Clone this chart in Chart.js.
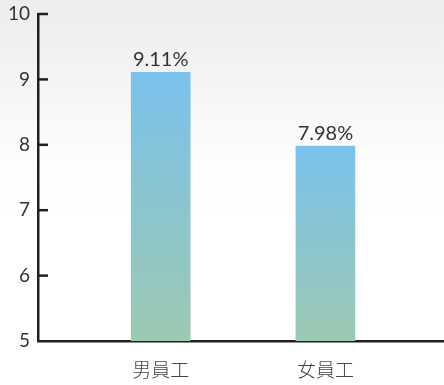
<!DOCTYPE html>
<html>
<head>
<meta charset="utf-8">
<script src="https://cdn.jsdelivr.net/npm/chart.js@4"></script>
<style>
  html, body { margin: 0; padding: 0; }
  body {
    width: 444px; height: 385px;
    background: linear-gradient(to bottom, #ededed 0%, #f4f4f4 20%, #fdfdfd 42%, #ffffff 55%);
  }
  #wrap { position: relative; width: 444px; height: 385px; }
</style>
</head>
<body>
<div id="wrap"><canvas id="chart"></canvas></div>
<script>
const categories = ['男員工', '女員工'];
const rates = [9.11, 7.98];
const yTicks = [5, 6, 7, 8, 9, 10];

const numFont = "Lato, 'Noto Sans', sans-serif";
const cjkFont = "'Noto Sans CJK TC', 'Noto Sans', sans-serif";

function barGradient(ctx) {
  const chart = ctx.chart;
  if (!chart.chartArea || ctx.dataIndex === undefined) return '#7cc2ea';
  const y = chart.scales.y;
  const top = y.getPixelForValue(rates[ctx.dataIndex]);
  const bottom = y.getPixelForValue(y.min);
  const g = chart.ctx.createLinearGradient(0, top, 0, bottom);
  g.addColorStop(0, '#7ac2ec');
  g.addColorStop(1, '#9cc9b1');
  return g;
}

// short tick marks pointing into the plot
const innerTicks = {
  id: 'innerTicks',
  afterDraw(chart) {
    const c = chart.ctx, y = chart.scales.y;
    c.save();
    c.strokeStyle = '#231f20';
    c.lineWidth = 2.5;
    yTicks.slice(1).forEach(v => {
      const py = y.getPixelForValue(v);
      c.beginPath();
      c.moveTo(chart.chartArea.left, py);
      c.lineTo(chart.chartArea.left + 10, py);
      c.stroke();
    });
    c.restore();
  }
};

// percentage above each bar
const valueLabels = {
  id: 'valueLabels',
  afterDatasetsDraw(chart) {
    const c = chart.ctx;
    c.save();
    c.font = '20px ' + numFont;
    c.fillStyle = '#333';
    c.textAlign = 'center';
    c.textBaseline = 'alphabetic';
    chart.getDatasetMeta(0).data.forEach((bar, i) => {
      c.fillText(rates[i].toFixed(2) + '%', bar.x, bar.y - 6);
    });
    c.restore();
  }
};

new Chart(document.getElementById('chart'), {
  type: 'bar',
  data: {
    datasets: [{
      data: rates.map((v, i) => ({ x: i + 1, y: v })),
      backgroundColor: barGradient,
      barThickness: 59,
      borderWidth: 0
    }]
  },
  options: {
    responsive: true,
    maintainAspectRatio: false,
    animation: false,
    layout: { padding: { top: 14, right: 0, left: 0, bottom: 0 } },
    plugins: { legend: { display: false }, tooltip: { enabled: false } },
    scales: {
      x: {
        type: 'linear',
        offset: false,
        min: 0.255,
        max: 2.72,
        afterBuildTicks: s => { s.ticks = categories.map((_, i) => ({ value: i + 1 })); },
        afterFit: s => { s.height = 44; s.paddingLeft = 0; s.paddingRight = 0; },
        grid: { display: false, drawTicks: false },
        border: { color: '#231f20', width: 2.5 },
        ticks: {
          padding: 17,
          color: '#444',
          font: { family: cjkFont, size: 19, weight: '300' },
          callback: v => categories[v - 1] || ''
        }
      },
      y: {
        min: 5,
        max: 10,
        afterBuildTicks: s => { s.ticks = yTicks.map(v => ({ value: v })); },
        afterFit: s => { s.width = 38; s.paddingTop = 0; s.paddingBottom = 0; },
        grid: { display: false, drawTicks: false },
        border: { color: '#231f20', width: 2.5 },
        ticks: {
          padding: 8,
          color: '#333',
          font: { family: numFont, size: 19 }
        }
      }
    }
  },
  plugins: [innerTicks, valueLabels]
});
</script>
</body>
</html>
